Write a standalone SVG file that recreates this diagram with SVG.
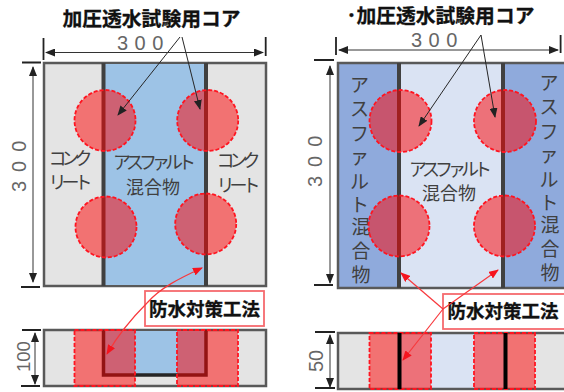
<svg xmlns="http://www.w3.org/2000/svg" width="564" height="392" viewBox="0 0 564 392">
<style>
text{font-family:"Noto Sans CJK JP","Noto Sans",sans-serif;fill:#404040}
.ttl{font-size:19.800px;font-weight:700;fill:#111;stroke:#111;stroke-width:.3}
.dim{font-family:"Liberation Sans",sans-serif;font-size:20px;fill:#666}
.lab{font-size:18px;text-anchor:middle}
.kana{letter-spacing:-5px}
.vlab{font-size:19px;text-anchor:middle}
.box{stroke:#595959;stroke-width:2.500;fill:#e4e4e4}
.wall{stroke:#404040;stroke-width:4;fill:none}
.core{fill:#f00;fill-opacity:.5;stroke:#ff1420;stroke-width:1.800;stroke-dasharray:4 2}
.k{stroke:#262626;stroke-width:1;fill:none;marker-end:url(#ka)}
.dd{stroke:#333;stroke-width:1;fill:none;marker-start:url(#ks);marker-end:url(#ka)}
.r{stroke:#f8383c;stroke-width:1.200;fill:none;marker-end:url(#ra)}
.tag{fill:#fff;stroke:#f56a6e;stroke-width:1.800}
.tagt{font-size:18.500px;font-weight:700;fill:#111;stroke:#111;stroke-width:.3}
.tick{stroke:#222;stroke-width:1.800;fill:none}
</style>
<defs>
<marker id="ka" markerWidth="10" markerHeight="8" refX="9" refY="4" orient="auto" markerUnits="userSpaceOnUse"><path d="M0 0L10 4L0 8z" fill="#222"/></marker>
<marker id="ks" markerWidth="10" markerHeight="8" refX="1" refY="4" orient="auto" markerUnits="userSpaceOnUse"><path d="M10 0L0 4L10 8z" fill="#222"/></marker>
<marker id="ra" markerWidth="10" markerHeight="8" refX="9" refY="4" orient="auto" markerUnits="userSpaceOnUse"><path d="M0 0L10 4L0 8z" fill="#f5141e"/></marker>
</defs>

<g id="plan-left">
<rect class="box" x="44" y="63" width="222" height="223"/>
<rect x="103.500" y="64" width="102.500" height="221" fill="#9dc3e6"/>
<path class="wall" d="M103.500 63V286M206 63V286"/>
<text class="lab kana"><tspan x="68" y="165">コンク</tspan><tspan x="68" y="189">リート</tspan></text>
<text class="lab"><tspan class="kana" x="152" y="169">アスファルト</tspan><tspan x="153" y="194">混合物</tspan></text>
<text class="lab kana"><tspan x="236" y="167">コンク</tspan><tspan x="236" y="192">リート</tspan></text>
<circle class="core" cx="105" cy="120.500" r="30.500"/>
<circle class="core" cx="207.700" cy="120.500" r="30.500"/>
<circle class="core" cx="106" cy="227" r="30.500"/>
<circle class="core" cx="205.700" cy="224" r="30.500"/>
</g>

<g id="section-left">
<rect class="box" x="44" y="330" width="222" height="56"/>
<rect x="103.500" y="331" width="102.500" height="44" fill="#9dc3e6"/>
<path d="M103.500 330V375H206V330" stroke="#262626" stroke-width="3.500" fill="none"/>
<rect class="core" x="74.500" y="330" width="60.500" height="56"/>
<rect class="core" x="177" y="330" width="61" height="56"/>
</g>

<g id="plan-right">
<rect x="338" y="63" width="226" height="225" fill="#dae3f3"/>
<rect x="338" y="63" width="61" height="225" fill="#8faadc"/>
<rect x="503" y="63" width="61" height="225" fill="#8faadc"/>
<path d="M564 63H338V288H564" stroke="#595959" stroke-width="2.500" fill="none"/>
<path class="wall" d="M399 63V288M503 63V288"/>
<text class="vlab"><tspan x="359.500" y="92">ア</tspan><tspan x="359.500" y="116">ス</tspan><tspan x="359.500" y="141">フ</tspan><tspan x="359.500" y="164">ァ</tspan><tspan x="359.500" y="189">ル</tspan><tspan x="359.500" y="212">ト</tspan><tspan x="361" y="234">混</tspan><tspan x="361" y="258">合</tspan><tspan x="361" y="282">物</tspan></text>
<text class="vlab"><tspan x="549" y="90">ア</tspan><tspan x="549" y="114">ス</tspan><tspan x="549" y="139">フ</tspan><tspan x="549" y="162">ァ</tspan><tspan x="549" y="187">ル</tspan><tspan x="549" y="210">ト</tspan><tspan x="550" y="232">混</tspan><tspan x="550" y="256">合</tspan><tspan x="550" y="280">物</tspan></text>
<text class="lab"><tspan class="kana" x="448" y="176">アスファルト</tspan><tspan x="449" y="200">混合物</tspan></text>
<circle class="core" cx="400.500" cy="121" r="31"/>
<circle class="core" cx="505" cy="121" r="31"/>
<circle class="core" cx="399" cy="226" r="30.500"/>
<circle class="core" cx="504.500" cy="226" r="30.500"/>
</g>

<g id="section-right">
<rect x="338" y="333" width="226" height="56" fill="#e4e4e4"/>
<rect x="399" y="334" width="106" height="54" fill="#dae3f3"/>
<path d="M564 333H338V389H564" stroke="#595959" stroke-width="2.500" fill="none"/>
<rect class="core" x="369.500" y="333" width="61.500" height="56"/>
<rect class="core" x="474" y="333" width="61" height="56"/>
<path d="M399.500 333V389M505.500 333V389" stroke="#000" stroke-width="4" fill="none"/>
</g>

<g id="tag-left">
<rect class="tag" x="145" y="291" width="119" height="35"/>
<text class="tagt" x="204.500" y="316" text-anchor="middle">防水対策工法</text>
</g>
<g id="tag-right">
<rect class="tag" x="443" y="294" width="122" height="35"/>
<text class="tagt" x="503" y="318" text-anchor="middle">防水対策工法</text>
</g>

<g id="connectors">
<path class="k" d="M180 37L118 115"/>
<path class="k" d="M182 37L200 109"/>
<path class="k" d="M481 35L419 126"/>
<path class="k" d="M481 35L495 117"/>
<path class="r" d="M147 303C132 318 118 335 107 354"/>
<path class="r" d="M147 303C160 288 180 278 202 268"/>
<path class="r" d="M443 309L401 273"/>
<path class="r" d="M443 309L498 270"/>
<path class="r" d="M443 309L403 360"/>
</g>

<g id="dim-left">
<path class="tick" d="M43.500 38V60M265.700 37V56M22 62.500H41M21 287H40M22 330H41M21 386H40"/>
<path class="dd" d="M46 52.500H263"/>
<path class="dd" d="M33 67V282"/>
<path class="dd" d="M35 333V384"/>
<text class="dim" x="117" y="49.500" letter-spacing="6.500">300</text>
<text class="dim" transform="translate(26 192) rotate(-90)" letter-spacing="9">300</text>
<text class="dim" transform="translate(30 372) rotate(-90)" style="font-size:18.500px">100</text>
</g>

<g id="dim-right">
<path class="tick" d="M336 37V55M560.600 35V53M314 60H334M314 285H333M315 332H335M315 388H335"/>
<path class="dd" d="M339 50H558"/>
<path class="dd" d="M330 66V283"/>
<path class="dd" d="M330 335V387"/>
<text class="dim" x="411" y="46.500" letter-spacing="6.500">300</text>
<text class="dim" transform="translate(322 187) rotate(-90)" letter-spacing="9">300</text>
<text class="dim" transform="translate(323 372) rotate(-90)">50</text>
</g>

<text class="ttl" x="151.500" y="26" text-anchor="middle">加圧透水試験用コア</text>
<text class="ttl" x="440.500" y="23" text-anchor="middle">･加圧透水試験用コア</text>
</svg>
